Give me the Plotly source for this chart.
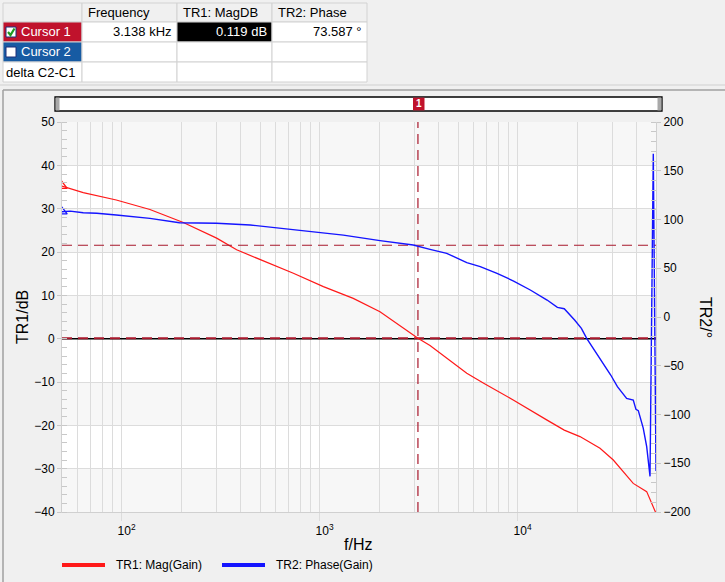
import math
import plotly.graph_objects as go

# ---------------- data ----------------
mag_freq = [50, 64, 94, 139, 205, 302, 381, 500, 737, 1045, 1479, 2018, 2546,
            3138, 3611, 4386, 5538, 6740, 9550, 14090, 17200, 20650, 26070, 30430, 38370,
            44870, 50000]
mag_db = [35.2, 33.7, 32.0, 29.8, 26.8, 23.2, 20.5, 18.3, 15.1, 12.0, 9.3,
          6.2, 2.9, 0.1, -1.6, -4.6, -8.0, -10.3, -14.2, -18.8, -21.1, -22.6, -25.3, -28.0,
          -33.4, -35.3, -40.3]

ph_freq = [50, 55, 64, 75, 94, 115, 139, 196, 302, 446, 607, 893, 1318, 2018, 2970, 3611,
           4386, 5538, 6475, 7870, 9550, 11590, 14090, 15880, 17200, 19400, 21000, 22330,
           25120, 29530, 31920, 35530, 38380, 39600, 40700, 43100, 44870, 46640, 48450, 50000]
ph_deg = [108, 108.6, 107, 106.4, 104.6, 103.2, 101.2, 96.7, 96.1, 94.4, 91.6, 87.5, 84, 78.3,
          73.8, 69.4, 65.3, 55.7, 51.6, 44.8, 36.9, 27.7, 17.4, 9.9, 8.5, -3.1, -11.6, -21.9,
          -37.3, -59.5, -71.5, -83.4, -85.1, -94.7, -96, -114, -133, -163.5, 167.5, -158]

cursor_freq = 3138
cursor_mag = 0.119
cursor_phase = 73.587

x_tickvals = [100, 1000, 10000]
x_ticktext = ["10<sup>2</sup>", "10<sup>3</sup>", "10<sup>4</sup>"]

table_header = ["", "Frequency", "TR1: MagDB", "TR2: Phase"]
table_rows = [["Cursor 1", "3.138 kHz", "0.119 dB", "73.587 °"],
              ["Cursor 2", "", "", ""],
              ["delta C2-C1", "", "", ""]]

# ---------------- geometry helpers ----------------
L, R, T, B = 62, 656, 122, 512
W, H = R - L, B - T
FIG_W, FIG_H = 725, 582


def px(x):
    return (x - L) / W


def py(y):
    return (B - y) / H


FONT = "Liberation Sans, Arial, sans-serif"
RED = "rgb(255,25,25)"
BLUE = "rgb(20,20,255)"
CUR = "#a8182c"

fig = go.Figure()

# cursor / reference lines (drawn from cursor values)
fig.add_trace(go.Scatter(x=[mag_freq[0], mag_freq[-1]], y=[0, 0], mode="lines",
                         line=dict(color="black", width=1.5), hoverinfo="skip", showlegend=False))
fig.add_trace(go.Scatter(x=[mag_freq[0], mag_freq[-1]], y=[cursor_mag, cursor_mag], mode="lines",
                         line=dict(color=CUR, width=2, dash="10px,6px"), hoverinfo="skip",
                         showlegend=False))
fig.add_trace(go.Scatter(x=[ph_freq[0], ph_freq[-1]], y=[cursor_phase, cursor_phase], mode="lines",
                         yaxis="y2", line=dict(color=CUR, width=1.2, dash="10px,6px"),
                         hoverinfo="skip", showlegend=False))
fig.add_trace(go.Scatter(x=[cursor_freq, cursor_freq], y=[-40, 50], mode="lines",
                         line=dict(color=CUR, width=1.2, dash="10px,6px"), hoverinfo="skip",
                         showlegend=False))

# data traces
fig.add_trace(go.Scatter(x=mag_freq, y=mag_db, mode="lines", name="TR1: Mag(Gain)",
                         line=dict(color=RED, width=1.2), showlegend=False))
fig.add_trace(go.Scatter(x=ph_freq, y=ph_deg, mode="lines", name="TR2: Phase(Gain)", yaxis="y2",
                         line=dict(color=BLUE, width=1.4), showlegend=False))
fig.add_trace(go.Scatter(x=[mag_freq[0]], y=[mag_db[0]], mode="markers",
                         marker=dict(symbol="triangle-up-open", size=9, color=RED,
                                     line=dict(width=1.3)), showlegend=False, hoverinfo="skip"))
fig.add_trace(go.Scatter(x=[ph_freq[0]], y=[ph_deg[0]], mode="markers", yaxis="y2",
                         marker=dict(symbol="triangle-up-open", size=9, color=BLUE,
                                     line=dict(width=1.3)), showlegend=False, hoverinfo="skip"))

shapes = []
annotations = []

# alternating bands between major dB gridlines
for i, lo in enumerate(range(-40, 50, 10)):
    if i % 2 == 0:
        shapes.append(dict(type="rect", xref="paper", yref="y", x0=0, x1=1, y0=lo, y1=lo + 10,
                           fillcolor="#f7f7f7", line=dict(width=0), layer="below"))

# ---------------- table ----------------
cols = [3, 82, 177, 272, 367]
rows = [3, 22, 42, 62, 82]
GRID = "#d2d2d2"
for r in range(4):
    for c in range(4):
        x0, x1 = cols[c], cols[c + 1]
        y0, y1 = rows[r], rows[r + 1]
        fill = "#f0f0f0" if r == 0 else "white"
        if r == 1 and c == 0:
            fill = "#c0122c"
        if r == 2 and c == 0:
            fill = "#175ba3"
        if r == 1 and c == 2:
            fill = "black"
        shapes.append(dict(type="rect", xref="paper", yref="paper", x0=px(x0), x1=px(x1),
                           y0=py(y1), y1=py(y0), fillcolor=fill, line=dict(color=GRID, width=1)))

for c in range(1, 4):
    annotations.append(dict(x=px(cols[c] + 4), y=py((rows[0] + rows[1]) / 2), xref="paper",
                            yref="paper", text=table_header[c], showarrow=False, xanchor="left",
                            yanchor="middle", font=dict(family=FONT, size=13, color="black")))

for r, row in enumerate(table_rows):
    yc = py((rows[r + 1] + rows[r + 2]) / 2)
    for c, txt in enumerate(row):
        if not txt:
            continue
        if c == 0:
            if r < 2:
                xl = 19
                col = "white"
            else:
                xl = 4
                col = "black"
            annotations.append(dict(x=px(xl), y=yc, xref="paper", yref="paper", text=txt,
                                    showarrow=False, xanchor="left", yanchor="middle",
                                    font=dict(family=FONT, size=13, color=col)))
        else:
            col = "white" if (r == 0 and c == 2) else "black"
            annotations.append(dict(x=px(cols[c + 1] - 3), y=yc, xref="paper", yref="paper",
                                    text=txt, showarrow=False, xanchor="right", yanchor="middle",
                                    font=dict(family=FONT, size=13, color=col)))

# checkboxes
for r in range(2):
    yc = (rows[r + 1] + rows[r + 2]) / 2
    shapes.append(dict(type="rect", xref="paper", yref="paper", x0=px(6), x1=px(16),
                       y0=py(yc + 5), y1=py(yc - 5), fillcolor="white",
                       line=dict(color="#1c2f7a", width=1)))
# green check mark in cursor 1 box
yc1 = (rows[1] + rows[2]) / 2
shapes.append(dict(type="path", xref="paper", yref="paper",
                   path="M {} {} L {} {} L {} {}".format(px(8), py(yc1), px(10.5), py(yc1 + 3),
                                                          px(14.5), py(yc1 - 3.5)),
                   line=dict(color="#1f9a1f", width=2.2)))

# separators / panel frame
shapes.append(dict(type="line", xref="paper", yref="paper", x0=px(0), x1=px(725), y0=py(85),
                   y1=py(85), line=dict(color="#d0d0d0", width=1)))
shapes.append(dict(type="line", xref="paper", yref="paper", x0=px(3), x1=px(725), y0=py(90),
                   y1=py(90), line=dict(color="#a0a0a0", width=1.5)))
shapes.append(dict(type="line", xref="paper", yref="paper", x0=px(3), x1=px(3), y0=py(90),
                   y1=py(582), line=dict(color="#a0a0a0", width=1.5)))

# slider
shapes.append(dict(type="rect", xref="paper", yref="paper", x0=px(55), x1=px(662), y0=py(111),
                   y1=py(97), fillcolor="white", line=dict(color="black", width=1.3)))
shapes.append(dict(type="rect", xref="paper", yref="paper", x0=px(55.7), x1=px(59.5),
                   y0=py(110.4), y1=py(97.6), fillcolor="#a9a9a9", line=dict(width=0)))
shapes.append(dict(type="rect", xref="paper", yref="paper", x0=px(657.5), x1=px(661.3),
                   y0=py(110.4), y1=py(97.6), fillcolor="#a9a9a9", line=dict(width=0)))
shapes.append(dict(type="rect", xref="paper", yref="paper", x0=px(413), x1=px(424.5),
                   y0=py(110.4), y1=py(97.6), fillcolor="#c0122c", line=dict(width=0)))
annotations.append(dict(x=px(418.8), y=py(104), xref="paper", yref="paper", text="<b>1</b>",
                        showarrow=False, xanchor="center", yanchor="middle",
                        font=dict(family=FONT, size=10, color="white")))

# axis titles
annotations.append(dict(x=px(22), y=py(317), xref="paper", yref="paper", text="TR1/dB",
                        showarrow=False, textangle=-90, xanchor="center", yanchor="middle",
                        font=dict(family=FONT, size=16, color="black")))
annotations.append(dict(x=px(706), y=py(317), xref="paper", yref="paper", text="TR2/°",
                        showarrow=False, textangle=90, xanchor="center", yanchor="middle",
                        font=dict(family=FONT, size=16, color="black")))
annotations.append(dict(x=px(358), y=py(544), xref="paper", yref="paper", text="f/Hz",
                        showarrow=False, xanchor="center", yanchor="middle",
                        font=dict(family=FONT, size=16, color="black")))

# legend (drawn)
legend_items = [("TR1: Mag(Gain)", RED, 62), ("TR2: Phase(Gain)", BLUE, 222)]
for name, color, x0 in legend_items:
    shapes.append(dict(type="line", xref="paper", yref="paper", x0=px(x0), x1=px(x0 + 43),
                       y0=py(565), y1=py(565), line=dict(color=color, width=4)))
    annotations.append(dict(x=px(x0 + 52), y=py(565), xref="paper", yref="paper", text=name,
                            showarrow=False, xanchor="left", yanchor="middle",
                            font=dict(family=FONT, size=12, color="black")))

minor_x = [k * 10 ** n for n in range(1, 5) for k in range(2, 10) if 50 <= k * 10 ** n <= 50000]

fig.update_layout(
    width=FIG_W, height=FIG_H,
    margin=dict(l=L, r=FIG_W - R, t=T, b=FIG_H - B, pad=0),
    paper_bgcolor="#f0f0f0", plot_bgcolor="white",
    showlegend=False,
    font=dict(family=FONT, size=12, color="black"),
    xaxis=dict(type="log", range=[math.log10(50), math.log10(50000)],
               tickmode="array", tickvals=x_tickvals, ticktext=x_ticktext,
               showgrid=True, gridcolor="#dcdcdc", gridwidth=1,
               ticks="outside", ticklen=8, tickcolor="#dcdcdc",
               ticklabelshift=5,
               minor=dict(tickmode="array", tickvals=minor_x, showgrid=True,
                          gridcolor="#dcdcdc", ticks=""),
               showline=True, linecolor="#d0d0d0", zeroline=False,
               tickfont=dict(family=FONT, size=12, color="black")),
    yaxis=dict(range=[-40, 50], tickmode="linear", tick0=-40, dtick=10,
               showgrid=True, gridcolor="#dcdcdc", zeroline=False,
               ticks="outside", ticklen=4, tickcolor="#c8c8c8",
               minor=dict(dtick=2, ticks="inside", ticklen=5, tickcolor="#c8c8c8",
                          showgrid=False),
               showline=True, linecolor="#d0d0d0",
               tickfont=dict(family=FONT, size=12, color="black")),
    yaxis2=dict(range=[-200, 200], tickmode="linear", tick0=-200, dtick=50,
                overlaying="y", side="right", showgrid=False, zeroline=False,
                ticks="outside", ticklen=4, tickcolor="#c8c8c8",
                minor=dict(dtick=10, ticks="inside", ticklen=5, tickcolor="#c8c8c8",
                           showgrid=False),
                showline=True, linecolor="#d0d0d0",
                tickfont=dict(family=FONT, size=12, color="black")),
    shapes=shapes,
    annotations=annotations,
)

fig.write_html("out.html", config={"displayModeBar": False},
               post_script="document.body.style.margin='0px';")
